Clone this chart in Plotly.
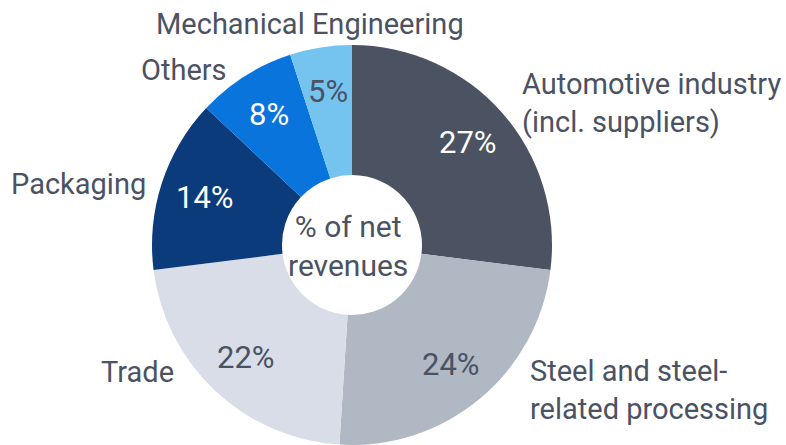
import math
import plotly.graph_objects as go

# Net revenue share by customer industry (clockwise from 12 o'clock)
segments = ["Automotive industry<br>(incl. suppliers)", "Steel and steel-<br>related processing",
            "Trade", "Packaging", "Others", "Mechanical Engineering"]
shares = [27, 24, 22, 14, 8, 5]
colors = ["#4b5363", "#afb8c3", "#d9dde8", "#0b3b7b", "#0975dc", "#75c3ef"]
pct_colors = ["white", "#4a5263", "#4a5263", "white", "white", "#4a5263"]

W, H = 786, 445
CX, CY, R = 352, 245, 200
TEXT = "#4a5263"
FONT = "Roboto"

fig = go.Figure(go.Pie(
    labels=[s.replace("<br>", " ") for s in segments],
    values=shares,
    sort=False,
    direction="clockwise",
    rotation=0,
    hole=0.35,
    marker=dict(colors=colors, line=dict(width=0)),
    textinfo="none",
    hoverinfo="label+percent",
    domain=dict(x=[(CX - R) / W, (CX + R) / W], y=[1 - (CY + R) / H, 1 - (CY - R) / H]),
    showlegend=False,
))


def px(x, y):
    return x / W, 1 - y / H


annotations = []
# percentage labels at the middle of each slice
total = sum(shares)
cum = 0
for v, c in zip(shares, pct_colors):
    mid = (cum + v / 2) / total * 2 * math.pi
    cum += v
    x, y = px(CX + 155 * math.sin(mid), CY - 155 * math.cos(mid))
    annotations.append(dict(x=x, y=y, xref="paper", yref="paper", text=f"{v}%",
                            showarrow=False, xanchor="center", yanchor="middle",
                            font=dict(family=FONT, size=31, color=c)))

# category labels around the ring
label_pos = [
    (520, 103, "left"),
    (528, 390, "left"),
    (176, 372, "right"),
    (148, 184, "right"),
    (229, 70, "right"),
    (310, 24, "center"),
]
for name, (x, y, al) in zip(segments, label_pos):
    xp, yp = px(x, y)
    annotations.append(dict(x=xp, y=yp, xref="paper", yref="paper", text=name,
                            showarrow=False, xanchor=al, yanchor="middle", align=al,
                            font=dict(family=FONT, size=29, color=TEXT)))

# centre caption
xc, yc = px(348, 246)
annotations.append(dict(x=xc, y=yc, xref="paper", yref="paper", text="% of net<br>revenues",
                        showarrow=False, align="center", xanchor="center", yanchor="middle",
                        font=dict(family=FONT, size=30, color=TEXT)))

fig.update_layout(
    width=W, height=H,
    margin=dict(l=0, r=0, t=0, b=0),
    paper_bgcolor="white", plot_bgcolor="white",
    annotations=annotations,
)

fig.write_html("out.html")
